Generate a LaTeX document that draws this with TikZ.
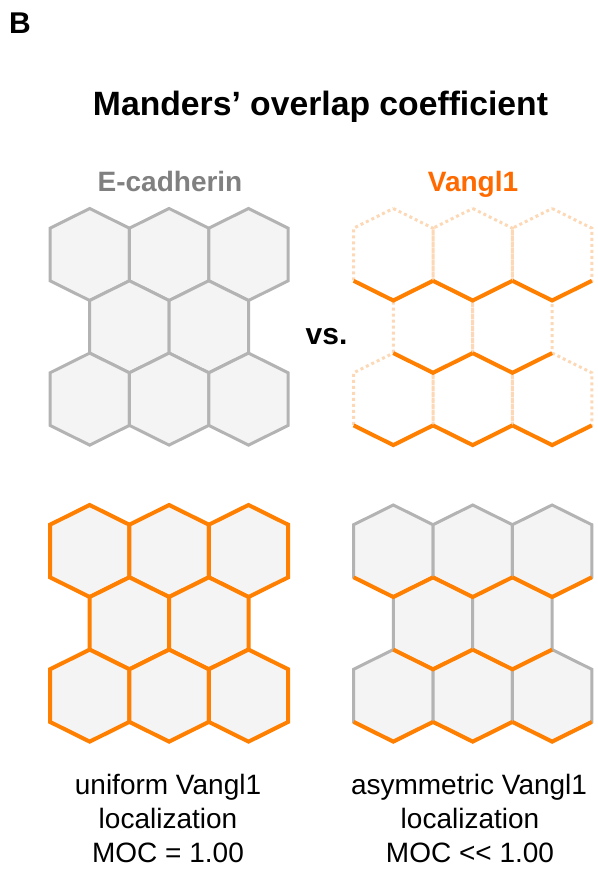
\documentclass[tikz,border=0pt]{standalone}
\usepackage{fontspec}
\setmainfont{Liberation Sans}

\definecolor{cellfill}{HTML}{F4F4F4}
\definecolor{wallgray}{HTML}{B3B3B3}
\definecolor{vorange}{HTML}{FF8000}
\definecolor{vpeach}{HTML}{FDD8B6}
\definecolor{labelorange}{HTML}{FF6A00}
\definecolor{labelgray}{HTML}{808080}

% one hexagonal cell (pointed top) centred at (#1,#2), and its two lower walls
\newcommand\hexpath[2]{({#1},{#2-46}) -- ({#1+39.7},{#2-26.3}) -- ({#1+39.7},{#2+26.3}) -- ({#1},{#2+46}) -- ({#1-39.7},{#2+26.3}) -- ({#1-39.7},{#2-26.3}) -- cycle}
\newcommand\hexbase[2]{({#1-39.7},{#2+26.3}) -- ({#1},{#2+46}) -- ({#1+39.7},{#2+26.3})}
\newcommand\cellsoffsets{0/0,79.4/0,158.8/0,39.7/72.3,119.1/72.3,0/144.6,79.4/144.6,158.8/144.6}

\tikzset{
  graywall/.style={draw=wallgray, line width=3pt, fill=cellfill, line join=miter},
  orangewall/.style={draw=vorange, line width=4pt, line join=miter},
  faintwall/.style={draw=vpeach, line width=3pt, dash pattern=on 3pt off 3pt},
  boldlabel/.style={font=\bfseries\fontsize{28}{34}\selectfont, inner sep=0pt, anchor=base},
  caption/.style={font=\fontsize{28}{34}\selectfont, inner sep=0pt, anchor=base},
}

\begin{document}
\begin{tikzpicture}[x=1pt, y=-1pt]
\useasboundingbox (0,0) rectangle (597,869);

% panel letter and title
\node[boldlabel, anchor=base west, font=\bfseries\fontsize{30}{34}\selectfont] (panel) at (9,33.5) {B};
\node[boldlabel, font=\bfseries\fontsize{33.7}{40}\selectfont] (title) at (320.5,116) {Manders’ overlap coefficient};
\node[boldlabel, text=labelgray] (ecad) at (170,191.7) {E-cadherin};
\node[boldlabel, text=labelorange] (vangl) at (473,191.7) {Vangl1};
\node[boldlabel, font=\bfseries\fontsize{30}{34}\selectfont] (vs) at (326.5,344) {vs.};

% E-cadherin: all cell walls
\foreach \dx/\dy in \cellsoffsets {
  \pgfmathsetmacro\cx{89.7+\dx}\pgfmathsetmacro\cy{254.5+\dy}
  \draw[graywall] \hexpath{\cx}{\cy};
}

% Vangl1: faint walls everywhere, strong on the lower walls
\foreach \dx/\dy in \cellsoffsets {
  \pgfmathsetmacro\cx{393.3+\dx}\pgfmathsetmacro\cy{254.5+\dy}
  \draw[faintwall] \hexpath{\cx}{\cy};
}
\foreach \dx/\dy in \cellsoffsets {
  \pgfmathsetmacro\cx{393.3+\dx}\pgfmathsetmacro\cy{254.5+\dy}
  \draw[orangewall] \hexbase{\cx}{\cy};
}

% uniform localization: every wall orange
\foreach \dx/\dy in \cellsoffsets {
  \pgfmathsetmacro\cx{89.7+\dx}\pgfmathsetmacro\cy{551+\dy}
  \draw[orangewall, fill=cellfill] \hexpath{\cx}{\cy};
}

% asymmetric localization: gray walls, orange lower walls
\foreach \dx/\dy in \cellsoffsets {
  \pgfmathsetmacro\cx{393.3+\dx}\pgfmathsetmacro\cy{551+\dy}
  \draw[graywall] \hexpath{\cx}{\cy};
}
\foreach \dx/\dy in \cellsoffsets {
  \pgfmathsetmacro\cx{393.3+\dx}\pgfmathsetmacro\cy{551+\dy}
  \draw[orangewall] \hexbase{\cx}{\cy};
}

% captions
\node[caption] (uniA) at (168,794) {uniform Vangl1};
\node[caption] (uniB) at (168,828) {localization};
\node[caption] (uniC) at (168,862) {MOC = 1.00};
\node[caption] (asyA) at (469,794) {asymmetric Vangl1};
\node[caption] (asyB) at (470,828) {localization};
\node[caption] (asyC) at (470,862) {MOC {<}{<} 1.00};
\end{tikzpicture}
\end{document}
